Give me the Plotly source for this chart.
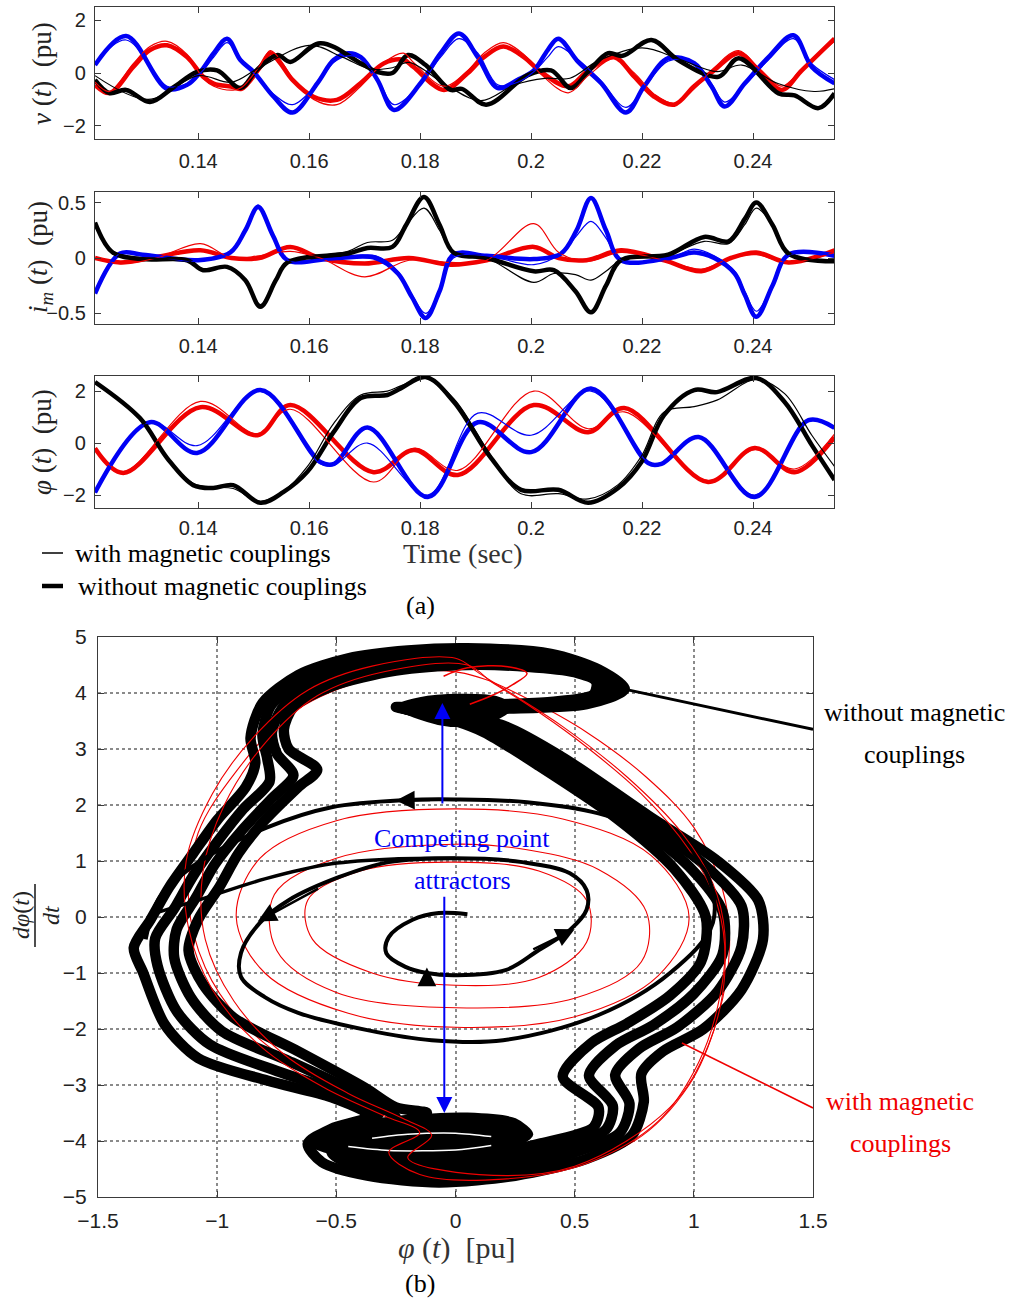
import plotly.graph_objects as go

# ---------------- Panel (a): time series ----------------
# v(t)
t_v_b = [0.1214, 0.127, 0.1344, 0.138, 0.1404, 0.1428, 0.1452, 0.1476, 0.15, 0.1536, 0.157, 0.1615, 0.1644,
         0.167, 0.1693, 0.1723, 0.1753, 0.1801, 0.1837, 0.187, 0.1904, 0.194, 0.1976, 0.2005, 0.203, 0.2049,
         0.2085, 0.2126, 0.2171, 0.2204, 0.2247, 0.2294, 0.2325, 0.2349, 0.2385, 0.2428, 0.2473, 0.2506, 0.2547]
v_b_thick = [0.3, 1.4, -0.6, -0.45, 0.04, 0.75, 1.3, 0.49, 0.04, -0.9, -1.5, -0.38, 0.49, 0.75, 0.6, -0.26, -1.4,
             -0.38, 0.75, 1.5, 0.6, -0.57, -0.26, 0.1, 0.87, 1.3, 0.42, -0.38, -1.5, -0.5, 0.56, 0.37, -0.5, -1.27,
             -0.4, 0.6, 1.43, 0.23, -0.39]
v_b_thin = [0.35, 1.25, -0.5, -0.4, 0.0, 0.6, 1.15, 0.55, 0.0, -0.8, -1.2, -0.4, 0.4, 0.65, 0.55, -0.2, -1.2,
            -0.4, 0.6, 1.3, 0.75, -0.45, -0.35, 0.05, 0.6, 1.0, 0.5, -0.3, -1.3, -0.55, 0.45, 0.4, -0.4, -1.1,
            -0.45, 0.5, 1.3, 0.35, -0.25]
t_v_r = [0.1214, 0.124, 0.1283, 0.1313, 0.1344, 0.138, 0.1409, 0.1428, 0.1463, 0.1478, 0.1512, 0.153, 0.1548,
         0.157, 0.1608, 0.165, 0.1693, 0.1735, 0.177, 0.1788, 0.1843, 0.1886, 0.1915, 0.195, 0.1987, 0.2018,
         0.2067, 0.2103, 0.215, 0.2186, 0.2222, 0.2258, 0.2294, 0.233, 0.2374, 0.241, 0.2452, 0.2488, 0.2547]
v_r_thick = [-0.45, -0.76, 0.23, 0.87, 1.05, 0.6, -0.14, -0.4, -0.53, -0.6, 0.23, 0.75, 0.37, -0.26, -0.9, -1.02,
             -0.38, 0.37, 0.5, 0.23, -0.64, 0.0, 0.6, 1.0, 0.6, 0.04, -0.5, 0.1, 0.6, -0.14, -0.9, -1.2, -0.5, 0.1,
             0.75, 0.1, -0.64, 0.1, 1.3]
v_r_thin = [-0.35, -0.7, 0.35, 1.0, 1.2, 0.7, -0.2, -0.5, -0.65, -0.55, 0.3, 0.85, 0.5, -0.2, -1.0, -1.2, -0.5,
            0.4, 0.75, 0.4, -0.5, 0.1, 0.75, 1.15, 0.7, -0.05, -0.75, -0.1, 0.55, 0.0, -0.8, -1.15, -0.6, 0.2,
            0.85, 0.2, -0.5, 0.15, 1.2]
t_v_k = [0.1214, 0.124, 0.127, 0.1313, 0.1355, 0.1398, 0.1434, 0.1476, 0.1505, 0.1543, 0.1566, 0.162, 0.1693,
         0.1723, 0.175, 0.1778, 0.181, 0.1855, 0.1875, 0.1919, 0.1994, 0.2036, 0.2072, 0.2105, 0.2139, 0.2165,
         0.2217, 0.2265, 0.2338, 0.2374, 0.2446, 0.2475, 0.2518, 0.2547]
v_k_thick = [-0.26, -0.76, -0.64, -1.1, -0.55, 0.04, 0.1, -0.57, 0.1, 0.68, 0.42, 1.13, 0.37, 0.04, 0.0, 0.68,
             0.3, -0.64, -0.6, -1.2, -0.08, 0.1, -0.57, 0.1, 0.75, 0.65, 1.25, 0.49, -0.14, 0.56, -0.77, -0.85,
             -1.33, -0.77]
t_v_k2 = [0.1214, 0.131, 0.14, 0.146, 0.151, 0.16, 0.166, 0.171, 0.175, 0.178, 0.185, 0.191, 0.197, 0.2025,
          0.207, 0.212, 0.22, 0.227, 0.2335, 0.238, 0.2445, 0.251, 0.2547]
v_k_thin = [-0.1, -1.0, -0.1, -0.35, 0.2, 1.05, 0.6, 0.15, 0.2, 0.4, -0.5, -1.05, -0.45, -0.2, -0.2, 0.45, 0.95,
            0.5, 0.05, 0.3, -0.4, -0.7, -0.6]

# i_m(t)
t_i_k = [0.1214, 0.1246, 0.13, 0.138, 0.1409, 0.1452, 0.1485, 0.1512, 0.154, 0.1561, 0.167, 0.1705, 0.175,
         0.1775, 0.1807, 0.1835, 0.186, 0.192, 0.2005, 0.2041, 0.208, 0.2108, 0.2135, 0.2162, 0.2247, 0.2312,
         0.2356, 0.2385, 0.2406, 0.2435, 0.2464, 0.2547]
i_k_thick = [0.32, 0.05, -0.01, -0.02, -0.11, -0.08, -0.2, -0.44, -0.2, -0.04, 0.04, 0.09, 0.1, 0.3, 0.55, 0.3,
             0.05, 0.0, -0.12, -0.11, -0.3, -0.49, -0.25, -0.02, 0.03, 0.19, 0.15, 0.35, 0.5, 0.3, 0.04, -0.03]
i_k_thin = [0.3, 0.06, 0.0, -0.02, -0.1, -0.08, -0.2, -0.42, -0.2, -0.04, 0.06, 0.14, 0.16, 0.3, 0.45, 0.25,
            0.05, 0.0, -0.22, -0.14, -0.15, -0.2, -0.12, -0.02, 0.03, 0.15, 0.13, 0.3, 0.45, 0.3, 0.04, -0.03]
t_i_b = [0.1214, 0.1259, 0.13, 0.14, 0.1458, 0.1485, 0.1508, 0.1535, 0.1561, 0.165, 0.172, 0.176, 0.1785, 0.181,
         0.1835, 0.186, 0.192, 0.2005, 0.2054, 0.2082, 0.2108, 0.2135, 0.2162, 0.225, 0.2294, 0.233, 0.2367,
         0.2385, 0.2406, 0.2435, 0.2464, 0.2547]
i_b_thick = [-0.32, 0.04, 0.03, -0.02, 0.05, 0.25, 0.46, 0.2, -0.02, 0.0, 0.0, -0.14, -0.35, -0.54, -0.3, 0.03,
             0.02, -0.01, 0.04, 0.25, 0.54, 0.25, -0.02, 0.0, 0.05, 0.0, -0.14, -0.33, -0.53, -0.25, 0.03, 0.02]
i_b_thin = [-0.3, 0.04, 0.03, -0.03, 0.05, 0.27, 0.48, 0.2, -0.02, 0.0, 0.02, -0.12, -0.33, -0.5, -0.3, 0.0,
            0.02, -0.06, 0.04, 0.2, 0.33, 0.18, -0.02, 0.0, 0.08, 0.02, -0.12, -0.3, -0.48, -0.25, 0.02, 0.02]
t_i_r = [0.1214, 0.126, 0.1325, 0.1404, 0.146, 0.151, 0.1566, 0.162, 0.17, 0.178, 0.1855, 0.192, 0.2005, 0.205,
         0.21, 0.2162, 0.224, 0.2307, 0.236, 0.2406, 0.2464, 0.2547]
i_r_thick = [0.0, -0.04, 0.01, 0.07, 0.0, 0.0, 0.1, 0.0, -0.05, 0.0, -0.06, -0.02, 0.1, 0.0, -0.02, 0.07, -0.02,
             -0.12, 0.0, 0.05, -0.04, 0.07]
i_r_thin = [0.0, -0.05, 0.0, 0.13, 0.0, 0.02, 0.06, 0.0, -0.17, -0.02, -0.04, -0.02, 0.31, 0.05, -0.03, 0.05,
            -0.02, -0.1, 0.0, 0.03, -0.04, 0.05]

# phi(t)
t_p_k = [0.1214, 0.1295, 0.1344, 0.1391, 0.1427, 0.1463, 0.1512, 0.1554, 0.1597, 0.1644, 0.1693, 0.1741, 0.1765,
         0.181, 0.1861, 0.1928, 0.1982, 0.2049, 0.2103, 0.2157, 0.2199, 0.224, 0.2294, 0.2335, 0.2406, 0.2457,
         0.2506, 0.2547]
p_k_thick = [2.35, 0.96, -0.58, -1.62, -1.73, -1.62, -2.3, -1.88, -1.1, 0.42, 1.73, 1.85, 2.1, 2.54, 1.58, -0.58,
             -1.8, -1.8, -2.3, -1.73, -0.73, 1.08, 2.04, 1.96, 2.5, 1.58, -0.08, -1.42]
p_k_thin = [2.3, 0.96, -0.6, -1.55, -1.7, -1.75, -2.25, -1.85, -0.9, 0.75, 1.85, 2.0, 2.2, 2.5, 1.7, -0.5, -1.95,
            -1.95, -2.15, -1.6, -0.5, 1.2, 1.4, 1.65, 2.45, 1.9, 0.3, -0.9]
t_p_b = [0.1214, 0.1313, 0.1398, 0.1512, 0.162, 0.1645, 0.1705, 0.1814, 0.1904, 0.2, 0.2108, 0.2211, 0.2235,
         0.2302, 0.2403, 0.25, 0.2547]
p_b_thick = [-1.9, 0.8, -0.38, 2.04, -0.73, -0.8, 0.6, -2.08, 0.8, -0.35, 2.1, -0.77, -0.8, 0.23, -2.08, 0.88, 0.58]
p_b_thin = [-1.9, 0.8, -0.1, 2.0, -0.8, -0.85, 0.0, -2.0, 1.15, 0.3, 2.0, -0.75, -0.8, 0.2, -2.0, 0.85, 0.55]
t_p_r = [0.1214, 0.1265, 0.1404, 0.1507, 0.1566, 0.1716, 0.1789, 0.1868, 0.2005, 0.2103, 0.2168, 0.2319, 0.2403,
         0.2475, 0.2547]
p_r_thick = [-0.2, -1.15, 1.38, 0.3, 1.46, -1.12, -0.27, -1.23, 1.46, 0.42, 1.35, -1.5, -0.19, -1.12, 0.23]
p_r_thin = [-0.2, -1.1, 1.6, 0.35, 1.3, -1.5, -0.2, -1.05, 2.0, 0.55, 1.2, -1.45, -0.25, -1.0, 0.35]

time_ticks = [0.14, 0.16, 0.18, 0.2, 0.22, 0.24]
time_ticktext = ["0.14", "0.16", "0.18", "0.2", "0.22", "0.24"]

# ---------------- Panel (b): phase portrait ----------------
# attractor strands (outer A -> inner D)
strandA_phi = [-0.25, -0.05, 0.2, 0.45, 0.82, 1.1, 1.27, 1.29, 1.2, 1.04, 0.87, 0.78, 0.79, 0.74, 0.55, 0.25, -0.07,
               -0.37, -0.56, -0.62, -0.52, -0.36, -0.52, -0.79, -1.08, -1.22, -1.31, -1.35, -1.28, -1.2, -1.1, -1.0,
               -0.88, -0.84, -0.86, -0.81, -0.66, -0.45, -0.2, 0.05, 0.4, 0.6, 0.71, 0.55, 0.2, -0.1, -0.25]
strandA_d = [3.75, 3.58, 3.42, 2.85, 1.78, 1.0, 0.3, -0.4, -1.3, -2.0, -2.4, -2.8, -3.3, -3.9, -4.32, -4.62, -4.74,
             -4.62, -4.38, -4.05, -3.78, -3.55, -3.22, -2.92, -2.52, -1.92, -1.0, -0.55, -0.05, 0.54, 1.14, 1.73,
             2.32, 2.75, 3.2, 3.82, 4.32, 4.62, 4.76, 4.8, 4.7, 4.42, 4.07, 3.8, 3.72, 3.7, 3.75]
strandB_phi = [-0.23, -0.03, 0.17, 0.42, 0.77, 1.04, 1.2, 1.2, 1.1, 0.93, 0.77, 0.67, 0.73, 0.69, 0.48, 0.18, -0.15,
               -0.41, -0.52, -0.48, -0.39, -0.32, -0.47, -0.75, -1.03, -1.17, -1.25, -1.26, -1.18, -1.1, -1.0, -0.89,
               -0.78, -0.79, -0.81, -0.77, -0.61, -0.38, -0.12, 0.13, 0.43, 0.6, 0.66, 0.5, 0.15, -0.1, -0.23]
strandB_d = [3.74, 3.55, 3.38, 2.8, 1.77, 0.95, 0.2, -0.53, -1.33, -1.97, -2.35, -2.82, -3.33, -3.85, -4.23, -4.51,
             -4.59, -4.45, -4.2, -3.91, -3.69, -3.5, -3.16, -2.75, -2.28, -1.68, -0.87, -0.38, 0.15, 0.74, 1.34,
             1.93, 2.42, 2.83, 3.25, 3.8, 4.25, 4.55, 4.67, 4.68, 4.58, 4.34, 4.05, 3.8, 3.73, 3.72, 3.74]
strandC_phi = [-0.22, -0.02, 0.15, 0.38, 0.73, 0.98, 1.12, 1.12, 1.0, 0.83, 0.67, 0.56, 0.66, 0.63, 0.42, 0.12, -0.22,
               -0.46, -0.49, -0.34, -0.25, -0.29, -0.43, -0.7, -0.98, -1.11, -1.18, -1.17, -1.09, -1.01, -0.9, -0.77,
               -0.68, -0.75, -0.77, -0.72, -0.57, -0.32, -0.03, 0.22, 0.47, 0.6, 0.62, 0.45, 0.1, -0.1, -0.22]
strandC_d = [3.73, 3.53, 3.34, 2.75, 1.76, 0.9, 0.1, -0.67, -1.37, -1.93, -2.3, -2.83, -3.37, -3.8, -4.14, -4.41,
             -4.45, -4.27, -4.03, -3.76, -3.59, -3.45, -3.11, -2.57, -2.04, -1.44, -0.73, -0.22, 0.34, 0.94, 1.53,
             2.12, 2.53, 2.92, 3.3, 3.77, 4.19, 4.47, 4.59, 4.57, 4.47, 4.27, 4.02, 3.82, 3.76, 3.73, 3.73]
strandD_phi = [-0.2, 0.0, 0.12, 0.35, 0.68, 0.92, 1.05, 1.03, 0.9, 0.72, 0.57, 0.45, 0.6, 0.58, 0.35, 0.05, -0.3,
               -0.5, -0.45, -0.2, -0.12, -0.25, -0.38, -0.66, -0.93, -1.06, -1.12, -1.08, -0.99, -0.91, -0.8, -0.66,
               -0.58, -0.7, -0.72, -0.68, -0.52, -0.25, 0.05, 0.3, 0.5, 0.59, 0.58, 0.4, 0.05, -0.1, -0.2]
strandD_d = [3.72, 3.5, 3.3, 2.7, 1.75, 0.85, 0.0, -0.8, -1.4, -1.9, -2.25, -2.85, -3.4, -3.75, -4.05, -4.3, -4.3,
             -4.1, -3.85, -3.62, -3.5, -3.4, -3.05, -2.4, -1.8, -1.2, -0.6, -0.05, 0.54, 1.14, 1.73, 2.32, 2.63,
             3.0, 3.35, 3.75, 4.12, 4.4, 4.5, 4.47, 4.37, 4.2, 3.98, 3.84, 3.78, 3.75, 3.72]

# point-attractor "spots"
topspot_phi = [-0.25, -0.15, 0.02, 0.17, 0.24, 0.15, -0.02, -0.15, -0.25]
topspot_d = [3.75, 3.9, 3.96, 3.92, 3.76, 3.5, 3.42, 3.55, 3.75]
botspot_phi = [-0.62, -0.5, -0.25, 0.05, 0.25, 0.32, 0.22, -0.05, -0.35, -0.55, -0.62]
botspot_d = [-4.02, -3.75, -3.58, -3.52, -3.62, -3.88, -4.15, -4.3, -4.28, -4.18, -4.02]
botgap1_phi = [-0.35, -0.2, 0.0, 0.15]
botgap1_d = [-3.95, -3.88, -3.86, -3.92]
botgap2_phi = [-0.45, -0.28, 0.0, 0.15]
botgap2_d = [-4.1, -4.17, -4.16, -4.08]

# transient (black) spiral
trans_phi = [0.05, -0.07, -0.18, -0.28, -0.29, -0.21, -0.12, 0.0, 0.21, 0.35, 0.48, 0.55, 0.55, 0.48, 0.28, 0.0,
             -0.28, -0.49, -0.7, -0.82, -0.9, -0.9, -0.8, -0.66, -0.37, -0.1, 0.2, 0.6, 0.9, 1.08, 1.05, 0.9, 0.6,
             0.3, 0.0, -0.2, -0.52, -0.79, -1.07, -1.24, -1.3]
trans_d = [0.05, 0.07, -0.05, -0.36, -0.65, -0.89, -1.0, -1.04, -0.95, -0.59, -0.23, 0.13, 0.48, 0.78, 0.98, 1.05,
           0.98, 0.71, 0.3, -0.1, -0.64, -1.07, -1.43, -1.71, -2.02, -2.2, -2.2, -1.75, -1.0, -0.1, 0.8, 1.35,
           1.85, 2.05, 2.1, 2.09, 1.96, 1.6, 1.0, 0.36, -0.4]
trans2_phi = [-1.26, -1.08, -0.8, -0.52, -0.24, 0.0]
trans2_d = [0.07, 0.3, 0.68, 0.95, 1.04, 1.05]

# red (with magnetic couplings) loops
red1_phi = [0.0, -0.35, -0.62, -0.85, -1.02, -1.13, -1.12, -1.02, -0.82, -0.55, -0.3, -0.15, -0.28, -0.15, 0.2,
            0.55, 0.85, 1.02, 1.11, 1.13, 1.08, 0.95, 0.72, 0.45, 0.25, 0.1, 0.0]
red1_d = [4.62, 4.48, 4.05, 3.2, 2.2, 1.0, -0.2, -1.3, -2.3, -3.05, -3.55, -3.85, -4.2, -4.6, -4.68, -4.4, -3.65,
          -2.6, -1.4, -0.3, 0.6, 1.5, 2.5, 3.4, 3.95, 4.35, 4.62]
red2_phi = [0.05, -0.3, -0.58, -0.8, -0.97, -1.06, -1.05, -0.93, -0.72, -0.45, -0.22, -0.1, -0.2, 0.1, 0.5, 0.9,
            1.06, 1.13, 1.1, 0.98, 0.78, 0.5, 0.3, 0.15, 0.05]
red2_d = [4.5, 4.38, 3.95, 3.1, 2.0, 0.8, -0.4, -1.5, -2.45, -3.15, -3.6, -3.9, -4.3, -4.6, -4.45, -3.4, -2.3,
          -1.0, 0.2, 1.2, 2.2, 3.2, 3.8, 4.2, 4.5]
red3_phi = [-0.05, -0.4, -0.7, -0.92, -1.08, -1.12, -1.05, -0.88, -0.62, -0.35, -0.15, 0.05, 0.0, 0.35, 0.75, 0.98,
            1.1, 1.15, 1.12, 1.0, 0.8, 0.55, 0.3, 0.12, -0.05]
red3_d = [4.4, 4.2, 3.6, 2.6, 1.5, 0.3, -0.9, -1.95, -2.8, -3.4, -3.75, -4.0, -4.4, -4.55, -4.0, -3.0, -1.8, -0.5,
          0.5, 1.6, 2.5, 3.3, 3.9, 4.25, 4.4]
red4_phi = [0.0, -0.5, -0.82, -0.92, -0.8, -0.45, 0.0, 0.5, 0.85, 0.98, 0.82, 0.45, 0.0]
red4_d = [1.93, 1.72, 1.05, 0.0, -1.0, -1.72, -1.97, -1.78, -1.05, 0.0, 1.1, 1.75, 1.93]
red5_phi = [0.0, -0.4, -0.62, -0.6, -0.35, 0.0, 0.35, 0.55, 0.55, 0.35, 0.0]
red5_d = [0.98, 0.82, 0.3, -0.4, -1.0, -1.22, -1.08, -0.45, 0.3, 0.82, 0.98]
red6_phi = [0.0, -0.5, -0.76, -0.75, -0.5, 0.0, 0.5, 0.78, 0.8, 0.6, 0.3, 0.0]
red6_d = [1.3, 1.05, 0.4, -0.6, -1.35, -1.62, -1.45, -0.8, 0.1, 0.85, 1.2, 1.3]
redtop_phi = [0.06, 0.15, 0.24, 0.3, 0.22, 0.05, -0.05]
redtop_d = [3.8, 3.95, 4.15, 4.35, 4.47, 4.45, 4.3]

# annotation pointers / arrows
black_ptr_phi = [0.62, 1.5]
black_ptr_d = [4.15, 3.35]
red_ptr_phi = [0.95, 1.5]
red_ptr_d = [-2.25, -3.41]
blue_arrow_up = dict(tail=(-0.055, 2.0), head=(-0.055, 3.82))
blue_arrow_down = dict(tail=(-0.047, 0.39), head=(-0.047, -3.5))
black_arrows = [((-0.1, 2.09), (-0.25, 2.08)), ((-0.57, 0.52), (-0.83, -0.08)),
                ((-0.12, -1.06), (-0.12, -0.9)), ((0.32, -0.59), (0.5, -0.22))]

phi_ticks = [-1.5, -1, -0.5, 0, 0.5, 1, 1.5]
phi_ticktext = ["\u22121.5", "\u22121", "\u22120.5", "0", "0.5", "1", "1.5"]
dphi_ticks = [-5, -4, -3, -2, -1, 0, 1, 2, 3, 4, 5]
dphi_ticktext = ["\u22125", "\u22124", "\u22123", "\u22122", "\u22121", "0", "1", "2", "3", "4", "5"]

RED = "rgb(240,0,0)"
BLUE = "rgb(0,0,245)"
BLACK = "black"
W, H = 1019, 1300

fig = go.Figure()


def ts(x, y, color, width, axis):
    fig.add_trace(go.Scatter(x=x, y=y, mode="lines", line=dict(color=color, width=width, shape="spline",
                                                                 smoothing=1.0),
                             xaxis="x" + axis, yaxis="y" + axis, hoverinfo="skip", showlegend=False))


# panel 1
ts(t_v_r, v_r_thick, RED, 4.5, "")
ts(t_v_b, v_b_thick, BLUE, 4.5, "")
ts(t_v_k, v_k_thick, BLACK, 4.5, "")
ts(t_v_r, v_r_thin, RED, 1.2, "")
ts(t_v_b, v_b_thin, BLUE, 1.2, "")
ts(t_v_k2, v_k_thin, BLACK, 1.2, "")
# panel 2
ts(t_i_r, i_r_thick, RED, 4.5, "2")
ts(t_i_b, i_b_thick, BLUE, 4.5, "2")
ts(t_i_k, i_k_thick, BLACK, 4.5, "2")
ts(t_i_r, i_r_thin, RED, 1.2, "2")
ts(t_i_b, i_b_thin, BLUE, 1.2, "2")
ts(t_i_k, i_k_thin, BLACK, 1.2, "2")
# panel 3
ts(t_p_r, p_r_thick, RED, 4.5, "3")
ts(t_p_b, p_b_thick, BLUE, 4.5, "3")
ts(t_p_k, p_k_thick, BLACK, 4.5, "3")
ts(t_p_r, p_r_thin, RED, 1.2, "3")
ts(t_p_b, p_b_thin, BLUE, 1.2, "3")
ts(t_p_k, p_k_thin, BLACK, 1.2, "3")


def pp(x, y, color, width, fill=None, shape="spline", smoothing=0.8):
    fig.add_trace(go.Scatter(x=x, y=y, mode="lines",
                             line=dict(color=color, width=width, shape=shape,
                                       smoothing=smoothing if shape == "spline" else None),
                             fill=fill, fillcolor=color if fill else None,
                             xaxis="x4", yaxis="y4", hoverinfo="skip", showlegend=False))


# panel b
for rx, ry in [(red3_phi, red3_d), (red4_phi, red4_d), (red5_phi, red5_d), (red6_phi, red6_d)]:
    pp(rx, ry, RED, 1.1, smoothing=1.0)
for sx, sy in [(strandA_phi, strandA_d), (strandB_phi, strandB_d), (strandC_phi, strandC_d),
               (strandD_phi, strandD_d)]:
    pp(sx, sy, BLACK, 10.5)
pp(topspot_phi, topspot_d, BLACK, 3, fill="toself")
pp(botspot_phi, botspot_d, BLACK, 3, fill="toself")
pp(botgap1_phi, botgap1_d, "white", 1.5)
pp(botgap2_phi, botgap2_d, "white", 1.5)
for rx, ry in [(red1_phi, red1_d), (red2_phi, red2_d)]:
    pp(rx, ry, RED, 1.1, smoothing=1.0)
pp(redtop_phi, redtop_d, RED, 1.5, smoothing=1.0)
pp(trans_phi, trans_d, BLACK, 4, smoothing=1.0)
pp(trans2_phi, trans2_d, BLACK, 3.5, smoothing=1.0)
pp(black_ptr_phi, black_ptr_d, BLACK, 3, shape="linear")
pp(red_ptr_phi, red_ptr_d, RED, 1.5, shape="linear")

annotations = []
for tail, head in black_arrows:
    annotations.append(dict(x=head[0], y=head[1], ax=tail[0], ay=tail[1], xref="x4", yref="y4", axref="x4",
                            ayref="y4", showarrow=True, arrowhead=2, arrowsize=1.5, arrowwidth=2.5,
                            arrowcolor=BLACK, text=""))
for arr in (blue_arrow_up, blue_arrow_down):
    annotations.append(dict(x=arr["head"][0], y=arr["head"][1], ax=arr["tail"][0], ay=arr["tail"][1],
                            xref="x4", yref="y4", axref="x4", ayref="y4", showarrow=True, arrowhead=2,
                            arrowsize=1.6, arrowwidth=2, arrowcolor=BLUE, text=""))

SERIF = "Liberation Serif"
SANS = "Liberation Sans"


def txt(x, y, s, size, color="black", angle=0, family=SERIF):
    annotations.append(dict(x=x / W, y=1 - y / H, xref="paper", yref="paper", text=s, showarrow=False,
                            font=dict(family=family, size=size, color=color), textangle=angle,
                            xanchor="center", yanchor="middle"))


txt(42, 74, "<i>v</i> (<i>t</i>)  (pu)", 27, "#222", -90)
txt(40, 257, "<i>i</i><sub><i>m</i></sub> (<i>t</i>)  (pu)", 27, "#222", -90)
txt(42, 442, "<i>φ</i> (<i>t</i>)  (pu)", 27, "#222", -90)
txt(463, 554, "Time (sec)", 28, "#333")
txt(203, 553, "with magnetic couplings", 26)
txt(222, 586, "without magnetic couplings", 26)
txt(420, 605, "(a)", 26)
txt(456, 1248, "<i>φ</i> (<i>t</i>)  [pu]", 30, "#333")
txt(420, 1283, "(b)", 26)
txt(21, 915, "<i>dφ</i>(<i>t</i>)", 24, "#222", -90)
txt(51, 915, "<i>dt</i>", 24, "#222", -90)
txt(914, 712, "without magnetic", 26)
txt(914, 754, "couplings", 26)
txt(900, 1101, "with magnetic", 26, RED)
txt(900, 1143, "couplings", 26, RED)
txt(462, 838, "Competing point", 26, BLUE)
txt(462, 880, "attractors", 26, BLUE)

shapes = [
    dict(type="line", xref="paper", yref="paper", x0=42 / W, x1=63 / W, y0=1 - 553 / H, y1=1 - 553 / H,
         line=dict(color="black", width=1.5)),
    dict(type="line", xref="paper", yref="paper", x0=42 / W, x1=63 / W, y0=1 - 586 / H, y1=1 - 586 / H,
         line=dict(color="black", width=4.5)),
    dict(type="line", xref="paper", yref="paper", x0=35 / W, x1=35 / W, y0=1 - 884 / H, y1=1 - 947 / H,
         line=dict(color="#222", width=1.6)),
]

FRAME = "#3a3a3a"
common_ax = dict(showline=True, linecolor=FRAME, linewidth=1.4, mirror="ticks", ticks="inside", ticklen=6,
                 tickcolor=FRAME, tickwidth=1.2, zeroline=False, showgrid=False, automargin=False,
                 tickfont=dict(family=SANS, size=20, color="#222"))

x_dom = [95 / W, 834 / W]
fig.update_layout(
    width=W, height=H, margin=dict(l=0, r=0, t=0, b=0, autoexpand=False), paper_bgcolor="white",
    plot_bgcolor="white", showlegend=False, annotations=annotations, shapes=shapes,
    xaxis=dict(common_ax, domain=x_dom, range=[0.1214, 0.2546], tickvals=time_ticks, ticktext=time_ticktext,
               anchor="y", ticklabelstandoff=4),
    yaxis=dict(common_ax, domain=[1 - 139 / H, 1 - 7 / H], range=[-2.5, 2.5], tickvals=[-2, 0, 2],
               ticktext=["\u22122", "0", "2"], anchor="x", ticklabelstandoff=4),
    xaxis2=dict(common_ax, domain=x_dom, range=[0.1214, 0.2546], tickvals=time_ticks, ticktext=time_ticktext,
                anchor="y2", ticklabelstandoff=4),
    yaxis2=dict(common_ax, domain=[1 - 324 / H, 1 - 192 / H], range=[-0.595, 0.595], tickvals=[-0.5, 0, 0.5],
                ticktext=["\u22120.5", "0", "0.5"], anchor="x2", ticklabelstandoff=4),
    xaxis3=dict(common_ax, domain=x_dom, range=[0.1214, 0.2546], tickvals=time_ticks, ticktext=time_ticktext,
                anchor="y3", ticklabelstandoff=2),
    yaxis3=dict(common_ax, domain=[1 - 508 / H, 1 - 376 / H], range=[-2.5, 2.58], tickvals=[-2, 0, 2],
                ticktext=["\u22122", "0", "2"], anchor="x3", ticklabelstandoff=4),
    xaxis4=dict(common_ax, domain=[98 / W, 813 / W], range=[-1.5, 1.5], tickvals=phi_ticks, ticktext=phi_ticktext,
                anchor="y4", showgrid=True, gridcolor="#8a8a8a", griddash="dot", gridwidth=1.5,
                ticklabelstandoff=5, tickfont=dict(family=SANS, size=21, color="#222")),
    yaxis4=dict(common_ax, domain=[1 - 1197 / H, 1 - 637 / H], range=[-5, 5], tickvals=dphi_ticks,
                ticktext=dphi_ticktext, anchor="x4", showgrid=True, gridcolor="#8a8a8a", griddash="dot",
                gridwidth=1.5, ticklabelstandoff=6, tickfont=dict(family=SANS, size=21, color="#222")),
)

fig.write_html("out.html")
